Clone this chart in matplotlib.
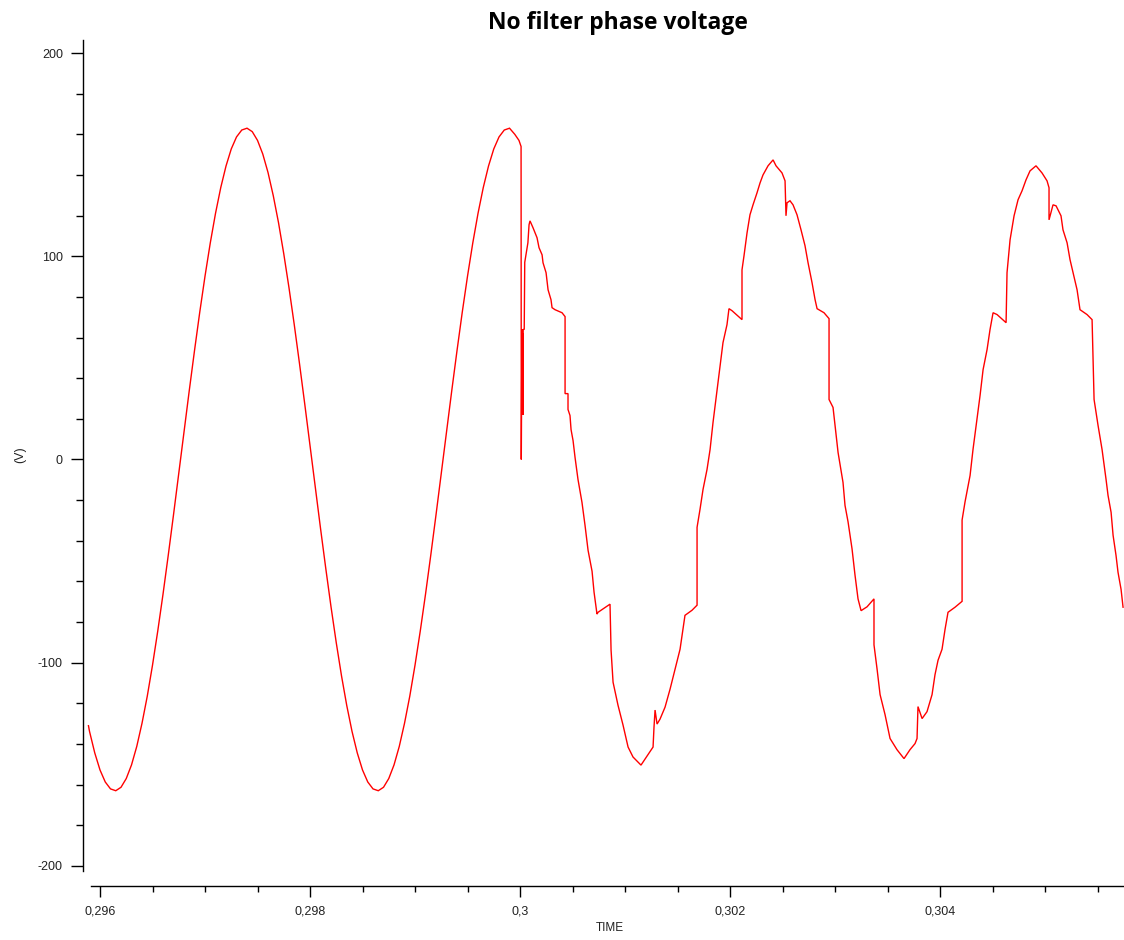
import matplotlib
matplotlib.use("Agg")
import matplotlib.pyplot as plt
from matplotlib.ticker import FixedLocator, FixedFormatter, MultipleLocator

# ---- data (time in s, voltage in V) ----
time_s = [
    0.29589, 0.29590, 0.29595, 0.29600, 0.29605, 0.29610, 0.29615, 0.29620, 0.29625,
    0.29630, 0.29635, 0.29640, 0.29645, 0.29650, 0.29655, 0.29660, 0.29665, 0.29670,
    0.29675, 0.29680, 0.29685, 0.29690, 0.29695, 0.29700, 0.29705, 0.29710, 0.29715,
    0.29720, 0.29725, 0.29730, 0.29735, 0.29740, 0.29745, 0.29750, 0.29755, 0.29760,
    0.29765, 0.29770, 0.29775, 0.29780, 0.29785, 0.29790, 0.29795, 0.29800, 0.29805,
    0.29810, 0.29815, 0.29820, 0.29825, 0.29830, 0.29835, 0.29840, 0.29845, 0.29850,
    0.29855, 0.29860, 0.29865, 0.29870, 0.29875, 0.29880, 0.29885, 0.29890, 0.29895,
    0.29900, 0.29905, 0.29910, 0.29915, 0.29920, 0.29925, 0.29930, 0.29935, 0.29940,
    0.29945, 0.29950, 0.29955, 0.29960, 0.29965, 0.29970, 0.29975, 0.29980, 0.29985,
    0.29990, 0.29995, 0.29999, 0.300010,
    0.300012, 0.300018, 0.300020, 0.300022, 0.300024, 0.300026, 0.300028, 0.300030,
    0.300040, 0.300045, 0.300075, 0.300086, 0.300095, 0.300124, 0.300162, 0.300181,
    0.300210, 0.300219, 0.300248, 0.300267, 0.300295, 0.300305, 0.300333, 0.300400,
    0.300429, 0.300429, 0.300457, 0.300457, 0.300476, 0.300486, 0.300505, 0.300524,
    0.300552, 0.300590, 0.300619, 0.300648, 0.300686, 0.300705, 0.300733, 0.300743,
    0.300857, 0.300867, 0.300886, 0.300933, 0.300981, 0.301029, 0.301076, 0.301152,
    0.301210, 0.301267, 0.301276, 0.301286, 0.301305, 0.301333, 0.301381, 0.301429,
    0.301476, 0.301524, 0.301552, 0.301571, 0.301638, 0.301686, 0.301686, 0.301714,
    0.301743, 0.301781, 0.301810, 0.301838, 0.301876, 0.301905, 0.301933, 0.301971,
    0.301990, 0.302019, 0.302114, 0.302114, 0.302133, 0.302162, 0.302190, 0.302219,
    0.302257, 0.302286, 0.302314, 0.302362, 0.302410, 0.302438, 0.302495, 0.302524,
    0.302533, 0.302543, 0.302571, 0.302600, 0.302638, 0.302676, 0.302714, 0.302743,
    0.302781, 0.302810, 0.302829, 0.302895, 0.302943, 0.302943, 0.302981, 0.303000,
    0.303029, 0.303076, 0.303095, 0.303124, 0.303162, 0.303190, 0.303219, 0.303248,
    0.303305, 0.303371, 0.303371, 0.303400, 0.303429, 0.303476, 0.303524, 0.303590,
    0.303657, 0.303714, 0.303762, 0.303781, 0.303790, 0.303829, 0.303876, 0.303924,
    0.303952, 0.303981, 0.304019, 0.304048, 0.304076, 0.304143, 0.304210, 0.304210,
    0.304238, 0.304286, 0.304314, 0.304352, 0.304381, 0.304410, 0.304448, 0.304476,
    0.304505, 0.304543, 0.304629, 0.304638, 0.304667, 0.304705, 0.304743, 0.304781,
    0.304819, 0.304857, 0.304914, 0.304971, 0.305019, 0.305038, 0.305038, 0.305076,
    0.305105, 0.305152, 0.305171, 0.305210, 0.305238, 0.305267, 0.305305, 0.305333,
    0.305400, 0.305448, 0.305457, 0.305467, 0.305505, 0.305543, 0.305581, 0.305600,
    0.305629, 0.305648, 0.305676, 0.305695, 0.305724, 0.305743,
]
voltage_v = [
    -131.0, -133.8, -144.4, -152.8, -158.7, -162.1, -163.0, -161.3, -157.0,
    -150.3, -141.2, -129.8, -116.5, -101.2, -84.4, -66.3, -47.1, -27.2,
    -6.8, 13.6, 33.9, 53.6, 72.5, 90.2, 106.5, 121.1, 133.8,
    144.4, 152.8, 158.7, 162.1, 163.0, 161.3, 157.0, 150.3, 141.2,
    129.8, 116.5, 101.2, 84.4, 66.3, 47.1, 27.2, 6.8, -13.6,
    -33.9, -53.6, -72.5, -90.2, -106.5, -121.1, -133.8, -144.4, -152.8,
    -158.7, -162.1, -163.0, -161.3, -157.0, -150.3, -141.2, -129.8, -116.5,
    -101.2, -84.4, -66.3, -47.1, -27.2, -6.8, 13.6, 33.9, 53.6,
    72.5, 90.2, 106.5, 121.1, 133.8, 144.4, 152.8, 158.7, 162.1,
    163.0, 160.0, 157.0, 154.0,
    0.0, 64.0, 22.0, 60.0, 25.0, 62.0, 22.0, 64.0,
    64.0, 97.0, 106.6, 115.5, 117.4, 114.0, 109.1, 104.2,
    100.7, 96.8, 91.9, 83.5, 78.6, 74.7, 73.7, 72.2,
    70.3, 32.4, 32.4, 24.6, 21.6, 14.7, 9.3, 1.0,
    -9.8, -21.1, -32.4, -44.7, -55.0, -65.3, -76.1, -75.2,
    -71.2, -93.8, -109.6, -120.9, -130.7, -141.5, -146.4, -150.4,
    -145.9, -141.5, -131.7, -123.3, -130.2, -127.8, -121.9, -113.0,
    -103.2, -93.4, -83.5, -76.7, -74.2, -71.7, -33.4, -24.6,
    -14.7, -4.9, 4.9, 18.2, 34.0, 46.2, 57.5, 66.3,
    74.2, 73.2, 68.8, 93.3, 100.2, 111.5, 120.4, 125.3,
    131.2, 136.1, 140.0, 144.5, 147.4, 144.5, 141.0, 137.1,
    119.9, 126.3, 127.3, 125.3, 120.4, 113.0, 105.2, 96.8,
    87.0, 78.6, 74.2, 72.2, 69.3, 29.5, 25.6, 16.7,
    3.4, -11.3, -22.6, -30.7, -44.0, -56.8, -68.6, -74.4,
    -72.5, -68.6, -91.2, -103.0, -115.7, -125.5, -137.3, -142.8,
    -147.2, -142.8, -139.8, -137.3, -121.6, -127.5, -124.1, -115.7,
    -105.9, -98.8, -93.4, -83.5, -75.2, -72.7, -69.8, -29.8,
    -20.9, -7.9, 4.9, 19.7, 31.4, 44.2, 54.1, 63.9,
    72.2, 71.3, 67.3, 91.9, 108.1, 119.9, 127.8, 132.2,
    137.6, 142.0, 144.5, 141.0, 137.1, 133.7, 117.9, 125.3,
    124.8, 119.9, 113.0, 106.6, 98.3, 91.9, 83.5, 73.7,
    71.3, 68.8, 49.1, 29.5, 16.7, 4.9, -9.8, -17.7,
    -26.0, -37.3, -47.2, -55.5, -63.9, -72.7,
]

x_ticks = [0.296, 0.298, 0.300, 0.302, 0.304]
x_tick_labels = ["0,296", "0,298", "0,3", "0,302", "0,304"]
y_ticks = [-200, -100, 0, 100, 200]
y_tick_labels = ["-200", "-100", "0", "100", "200"]

title = "No filter phase voltage"
x_label = "TIME"
y_label = "(V)"

# ---- figure ----
W, H = 1124, 940
fig = plt.figure(figsize=(W / 100, H / 100), dpi=100)
ax = fig.add_axes([83 / W, (H - 871) / H, (W - 83) / W, (871 - 40) / H])

ax.plot(time_s, voltage_v, color="#ff0000", lw=1.0, solid_joinstyle="miter")

ax.set_xlim(0.295838, 0.305752)
ax.set_ylim(-202.5, 206.4)

for s in ("top", "right"):
    ax.spines[s].set_visible(False)
ax.spines["bottom"].set_position(("outward", 11))
ax.spines["bottom"].set_bounds(0.295914, 0.305752)
ax.spines["left"].set_linewidth(1.0)
ax.spines["bottom"].set_linewidth(1.0)

ax.xaxis.set_major_locator(FixedLocator(x_ticks))
ax.xaxis.set_major_formatter(FixedFormatter(x_tick_labels))
ax.xaxis.set_minor_locator(MultipleLocator(0.0005))
ax.yaxis.set_major_locator(FixedLocator(y_ticks))
ax.yaxis.set_major_formatter(FixedFormatter(y_tick_labels))
ax.yaxis.set_minor_locator(MultipleLocator(20))

ax.tick_params(axis="x", which="major", length=8, width=1.0, pad=6, labelsize=9)
ax.tick_params(axis="x", which="minor", length=4.5, width=1.0)
ax.tick_params(axis="y", which="major", length=8.5, width=1.0, pad=6, labelsize=9)
ax.tick_params(axis="y", which="minor", length=5, width=1.0)
for lab in ax.get_xticklabels() + ax.get_yticklabels():
    lab.set_fontfamily("Liberation Sans")
    lab.set_color("#222222")

fig.text(618 / W, 1 - 23 / H, title, ha="center", va="center",
         fontsize=16.5, fontweight="bold", family="Open Sans")
fig.text(610 / W, 1 - 928 / H, x_label, ha="center", va="center",
         fontsize=8.5, family="Liberation Sans", color="#222222")
fig.text(20 / W, 1 - 455 / H, y_label, ha="center", va="center",
         rotation=90, fontsize=9, family="Liberation Sans", color="#222222")

fig.savefig("out.png", dpi=100)
